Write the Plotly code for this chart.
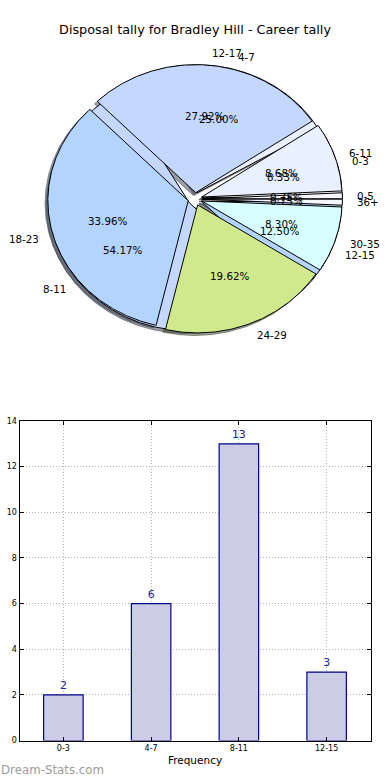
import numpy as np
import plotly.graph_objects as go

chart_title = "Disposal tally for Bradley Hill - Career tally"

# Outer pie: disposal tally per game (counts of games)
tally_labels = ["0-5", "6-11", "12-17", "18-23", "24-29", "30-35", "36+"]
tally_counts = [2, 23, 74, 90, 52, 22, 2]
tally_colors = ["#f6f6ff", "#e9f0ff", "#c4d8ff", "#b3d4ff", "#d0e98c", "#d8ffff", "#f6f6ff"]

# Second pie and bar chart: frequency buckets
freq_labels = ["0-3", "4-7", "8-11", "12-15"]
freq_counts = [2, 6, 13, 3]
freq_colors = ["#f8f8ff", "#e9f0ff", "#c4d8ff", "#b3d4ff"]

bar_fill = "#ccccE6"
bar_edge = "#000088"
value_color = "#22228c"

explode = 0.05
label_dist = 1.1
pct_dist = 0.6
FONT = "DejaVu Sans"

fig = go.Figure()
annotations = []


def wedge_geometry(counts):
    c = np.asarray(counts, dtype=float)
    frac = c / c.sum()
    t2 = np.cumsum(frac) * 360.0
    t1 = t2 - frac * 360.0
    return frac, t1, t2


def wedge_polygon(t1, t2, cx, cy):
    n = max(3, int((t2 - t1) / 0.5) + 2)
    ang = np.radians(np.linspace(t1, t2, n))
    xs = np.concatenate([[cx], cx + np.cos(ang), [cx]])
    ys = np.concatenate([[cy], cy + np.sin(ang), [cy]])
    return xs, ys


def shade(hexcol):
    h = hexcol.lstrip("#")
    r, g, b = (int(h[i:i + 2], 16) for i in (0, 2, 4))
    return "rgba(%d,%d,%d,0.5)" % (r * 0.3, g * 0.3, b * 0.3)


pies = [(freq_labels, freq_counts, freq_colors), (tally_labels, tally_counts, tally_colors)]

# shadows first
for labels, counts, colors in pies:
    frac, t1, t2 = wedge_geometry(counts)
    for i in range(len(counts)):
        mid = np.radians((t1[i] + t2[i]) / 2)
        cx, cy = explode * np.cos(mid), explode * np.sin(mid)
        xs, ys = wedge_polygon(t1[i], t2[i], cx - 0.02, cy - 0.02)
        col = shade(colors[i])
        fig.add_trace(go.Scatter(x=xs, y=ys, xaxis="x2", yaxis="y2", mode="lines",
                                 fill="toself", fillcolor=col, line=dict(color=col, width=1),
                                 hoverinfo="skip", showlegend=False))

# wedges: frequency pie underneath, tally pie on top
for labels, counts, colors in pies:
    frac, t1, t2 = wedge_geometry(counts)
    for i in range(len(counts)):
        mid = np.radians((t1[i] + t2[i]) / 2)
        cx, cy = explode * np.cos(mid), explode * np.sin(mid)
        xs, ys = wedge_polygon(t1[i], t2[i], cx, cy)
        fig.add_trace(go.Scatter(x=xs, y=ys, xaxis="x2", yaxis="y2", mode="lines",
                                 fill="toself", fillcolor=colors[i],
                                 line=dict(color="black", width=1),
                                 name=labels[i], hoverinfo="skip", showlegend=False))
        lx = cx + label_dist * np.cos(mid)
        ly = cy + label_dist * np.sin(mid)
        annotations.append(dict(x=lx, y=ly, xref="x2", yref="y2", text=labels[i],
                                showarrow=False, xanchor="left" if lx > 0 else "right",
                                yanchor="middle", borderpad=0,
                                font=dict(family=FONT, size=10.3, color="black")))
        px_ = cx + pct_dist * np.cos(mid)
        py_ = cy + pct_dist * np.sin(mid)
        annotations.append(dict(x=px_, y=py_, xref="x2", yref="y2",
                                text="%1.2f%%" % (frac[i] * 100),
                                showarrow=False, xanchor="center", yanchor="middle",
                                borderpad=0,
                                font=dict(family=FONT, size=10.3, color="black")))

# bar chart
fig.add_trace(go.Bar(x=freq_labels, y=freq_counts, width=0.45,
                     marker=dict(color=bar_fill, line=dict(color=bar_edge, width=1.2)),
                     text=[str(v) for v in freq_counts], textposition="outside",
                     textfont=dict(family=FONT, size=11, color=value_color),
                     cliponaxis=False, hoverinfo="skip", showlegend=False))

annotations.append(dict(x=0.0, y=1 - 770 / 780, xref="paper", yref="paper",
                        text="Dream-Stats.com", showarrow=False, xanchor="left",
                        yanchor="middle", borderpad=0,
                        font=dict(family=FONT, size=11.8, color="#9c9c9c")))

grid = dict(showgrid=True, gridcolor="#b4b4b4", griddash="1px,2px", gridwidth=1)

fig.update_layout(
    width=390, height=780,
    margin=dict(l=0, r=0, t=0, b=0),
    paper_bgcolor="white", plot_bgcolor="white",
    font=dict(family=FONT, color="black"),
    title=dict(text=chart_title, x=0.5, xanchor="center", xref="paper",
               y=1 - 30 / 780, yref="container", yanchor="middle",
               font=dict(family=FONT, size=12.8, color="black")),
    xaxis=dict(domain=[0.05, 0.95], range=[-0.5, 3.5], type="category",
               showline=True, linecolor="black", linewidth=1, mirror="ticks",
               ticks="inside", ticklen=4, tickcolor="black",
               tickfont=dict(family=FONT, size=8, color="black"),
               title=dict(text="Frequency", font=dict(family=FONT, size=10.5), standoff=4),
               automargin=False, zeroline=False, **grid),
    yaxis=dict(domain=[1 - 740.5 / 780, 1 - 421 / 780], range=[0, 14], dtick=2,
               showline=True, linecolor="black", linewidth=1, mirror="ticks",
               ticks="inside", ticklen=4, tickcolor="black",
               tickfont=dict(family=FONT, size=8, color="black"),
               automargin=False, zeroline=False, **grid),
    xaxis2=dict(domain=[0.05, 0.95], range=[-1.25, 1.25], visible=False,
                anchor="y2", fixedrange=True),
    yaxis2=dict(domain=[1 - 359 / 780, 1 - 39 / 780], range=[-1.25, 1.25], visible=False,
                anchor="x2", fixedrange=True),
    annotations=annotations,
)

fig.write_html("out.html",
               config={"displayModeBar": False, "staticPlot": True},
               post_script="document.body.style.margin='0';document.body.style.overflow='hidden';")
